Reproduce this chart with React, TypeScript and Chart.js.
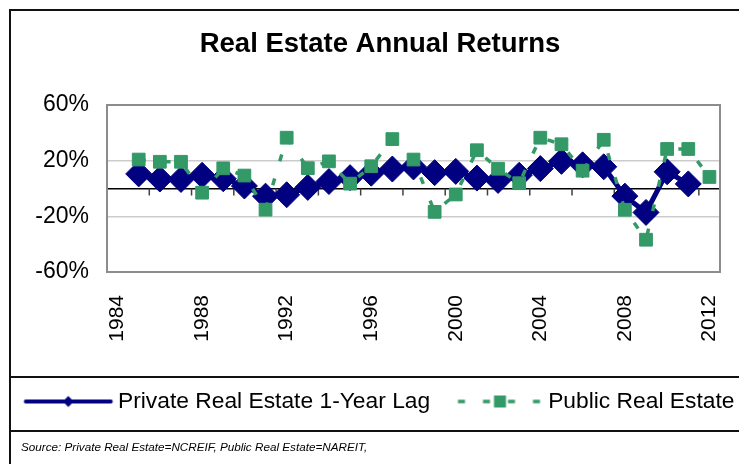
import { useEffect, useRef } from 'react';
import { Chart, registerables } from 'chart.js';

Chart.register(...registerables);

// ---- data ----
const years: string[] = [
  '1984', '1985', '1986', '1987', '1988', '1989', '1990', '1991', '1992', '1993',
  '1994', '1995', '1996', '1997', '1998', '1999', '2000', '2001', '2002', '2003',
  '2004', '2005', '2006', '2007', '2008', '2009', '2010', '2011', '2012',
];
const privateLag: (number | null)[] = [
  null, 10.5, 6.8, 6.5, 9.5, 7.0, 1.8, -5.5, -4.5, 0.8,
  5.0, 7.8, 11.0, 14.0, 15.5, 11.4, 12.3, 7.5, 5.8, 9.5,
  14.3, 19.5, 17.0, 15.6, -5.5, -17.2, 12.0, 3.3, null,
];
const publicRE: (number | null)[] = [
  null, 20.8, 19.2, 19.2, -3.0, 14.5, 9.3, -15.2, 36.5, 14.6,
  19.5, 3.5, 16.0, 35.5, 20.8, -16.8, -4.3, 27.5, 14.2, 3.8,
  36.5, 31.8, 12.8, 35.0, -15.3, -36.8, 28.4, 28.4, 8.3,
];
const yTickValues: number[] = [-60, -20, 0, 20, 60];
const labelEvery = 4;
const titleText = 'Real Estate Annual Returns';
const seriesNames: string[] = ['Private Real Estate 1-Year Lag', 'Public Real Estate'];
const sourceText = 'Source: Private Real Estate=NCREIF, Public Real Estate=NAREIT,';

// ---- styles ----
const NAVY = '#000080';
const GREEN = '#339966';
const BORDER_GRAY = '#8c8c8c';
const GRID_GRAY = '#cccccc';
const FONT = "'Liberation Sans', Arial, sans-serif";

function makeIcon(kind: 'private' | 'public'): HTMLCanvasElement {
  const c = document.createElement('canvas');
  c.width = 120;
  c.height = 24;
  const g = c.getContext('2d')!;
  if (kind === 'private') {
    g.strokeStyle = NAVY;
    g.lineWidth = 4;
    g.lineCap = 'round';
    g.beginPath();
    g.moveTo(29.5, 12);
    g.lineTo(114.5, 12);
    g.stroke();
    const cx = 72, r = 5.5;
    g.fillStyle = NAVY;
    g.beginPath();
    g.moveTo(cx - r, 12);
    g.lineTo(cx, 12 - r);
    g.lineTo(cx + r, 12);
    g.lineTo(cx, 12 + r);
    g.closePath();
    g.fill();
  } else {
    g.strokeStyle = GREEN;
    g.lineWidth = 3.5;
    g.setLineDash([7, 18]);
    g.beginPath();
    g.moveTo(31.5, 12);
    g.lineTo(116.5, 12);
    g.stroke();
    g.setLineDash([]);
    g.fillStyle = GREEN;
    g.fillRect(73.5 - 6, 6, 12, 12);
  }
  return c;
}

const zeroTicks = {
  id: 'zeroTicks',
  beforeDatasetsDraw(chart: any) {
    const x = chart.scales.x;
    const y = chart.scales.y;
    const y0 = y.getPixelForValue(0);
    const half = (x.getPixelForValue(1) - x.getPixelForValue(0)) / 2;
    const ctx = chart.ctx;
    ctx.save();
    ctx.strokeStyle = '#404040';
    ctx.lineWidth = 1.5;
    for (let k = 2; k < years.length; k += 2) {
      const px = x.getPixelForValue(k) - half;
      ctx.beginPath();
      ctx.moveTo(px, y0);
      ctx.lineTo(px, y0 + 7);
      ctx.stroke();
    }
    ctx.restore();
  },
};

export default function App() {
  const ref = useRef<HTMLCanvasElement | null>(null);

  useEffect(() => {
    if (!ref.current) return;
    const icons = [makeIcon('private'), makeIcon('public')];
    const chart = new Chart(ref.current, {
      type: 'line',
      data: {
        labels: years,
        datasets: [
          {
            label: seriesNames[0],
            data: privateLag,
            order: 1,
            borderColor: NAVY,
            backgroundColor: NAVY,
            borderWidth: 5,
            pointStyle: 'rectRot',
            pointRadius: 13,
            pointBorderWidth: 1,
            pointBackgroundColor: NAVY,
            pointBorderColor: NAVY,
            tension: 0,
          },
          {
            label: seriesNames[1],
            data: publicRE,
            order: 0,
            borderColor: GREEN,
            backgroundColor: GREEN,
            borderWidth: 3.5,
            borderDash: [7, 18],
            pointStyle: 'rect',
            pointRadius: 9,
            pointBorderWidth: 1,
            pointBackgroundColor: GREEN,
            pointBorderColor: GREEN,
            tension: 0,
          },
        ],
      },
      options: {
        responsive: false,
        animation: false,
        events: [],
        layout: { padding: { top: 0, left: 0, right: 0, bottom: 41.1 } },
        plugins: {
          tooltip: { enabled: false },
          title: {
            display: true,
            text: titleText,
            color: '#000',
            font: { family: FONT, size: 27.5, weight: 'bold', lineHeight: 1.2 },
            padding: { top: 27.5, bottom: 44.5 },
          },
          legend: {
            display: true,
            position: 'bottom',
            align: 'start',
            labels: {
              usePointStyle: true,
              pointStyleWidth: 100.6,
              padding: 6,
              color: '#000',
              font: { family: FONT, size: 22.8 },
              generateLabels: (ch: any) => {
                const items = (Chart.defaults.plugins.legend.labels as any).generateLabels(ch);
                items.sort((a: any, b: any) => a.datasetIndex - b.datasetIndex);
                items.forEach((it: any) => {
                  it.pointStyle = icons[it.datasetIndex];
                  it.fontColor = '#000';
                });
                return items;
              },
            },
          },
        },
        scales: {
          x: {
            type: 'category',
            offset: true,
            grid: { display: false, drawTicks: false },
            border: { display: false },
            ticks: {
              autoSkip: false,
              minRotation: 90,
              maxRotation: 90,
              padding: 23,
              color: '#000',
              font: { family: FONT, size: 21 },
              callback: (_v: any, i: number) => (i % labelEvery === 0 ? years[i] : ''),
            },
            afterFit: (s: any) => {
              s.height = 112.1;
            },
          },
          y: {
            type: 'linear',
            position: 'left',
            min: -60,
            max: 60,
            afterBuildTicks: (s: any) => {
              s.ticks = yTickValues.map((v) => ({ value: v }));
            },
            grid: {
              drawTicks: false,
              color: (c: any) =>
                c.tick && c.tick.value === 0
                  ? '#000000'
                  : c.tick && Math.abs(c.tick.value) === 60
                  ? BORDER_GRAY
                  : GRID_GRAY,
              lineWidth: (c: any) =>
                c.tick && Math.abs(c.tick.value) === 60 ? 2 : 1.5,
            },
            border: { display: true, color: BORDER_GRAY, width: 2 },
            ticks: {
              padding: 18,
              color: '#000',
              font: { family: FONT, size: 23 },
              callback: (v: any) => (Number(v) === 0 ? '' : v + '%'),
            },
            afterFit: (s: any) => {
              s.width = 107;
            },
          },
          y2: {
            type: 'linear',
            position: 'right',
            min: -60,
            max: 60,
            grid: { display: false, drawTicks: false },
            ticks: { display: false },
            border: { display: true, color: BORDER_GRAY, width: 2 },
            afterFit: (s: any) => {
              s.width = 40;
            },
          },
        },
      },
      plugins: [zeroTicks],
    } as any);
    return () => chart.destroy();
  }, []);

  const line = (style: any) => <div style={{ position: 'absolute', background: '#111', ...style }} />;

  return (
    <div
      style={{
        position: 'fixed',
        left: 0,
        top: 0,
        width: 739,
        height: 464,
        overflow: 'hidden',
        background: '#fff',
      }}
    >
      <canvas
        ref={ref}
        width={760}
        height={464}
        style={{ position: 'absolute', left: 0, top: 0, width: 760, height: 464 }}
      />
      {line({ left: 9, top: 9, width: 2, height: 455 })}
      {line({ left: 9, top: 9, width: 730, height: 2 })}
      {line({ left: 9, top: 376, width: 730, height: 2 })}
      {line({ left: 9, top: 430, width: 730, height: 2 })}
      <div
        style={{
          position: 'absolute',
          left: 21,
          top: 440,
          fontFamily: FONT,
          fontStyle: 'italic',
          fontSize: 11.7,
          lineHeight: '14px',
          color: '#000',
          whiteSpace: 'nowrap',
        }}
      >
        {sourceText}
      </div>
    </div>
  );
}
